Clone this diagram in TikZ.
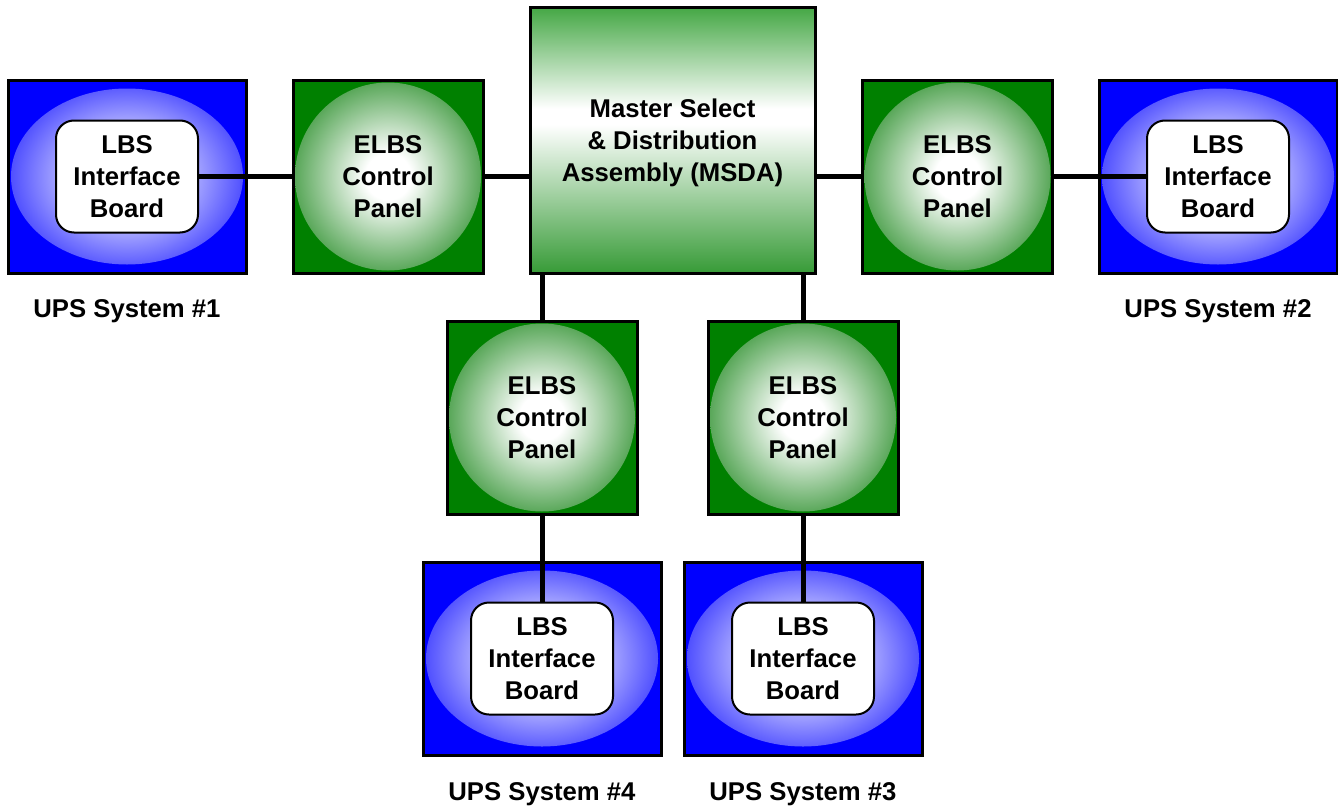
\documentclass[tikz,border=0pt]{standalone}
\usepackage{fontspec}
\setmainfont{Liberation Sans}
\definecolor{upsblue}{RGB}{0,0,255}
\definecolor{blueedge}{RGB}{75,75,255}
\definecolor{panelgreen}{RGB}{0,128,0}
\definecolor{greenedge}{RGB}{85,165,85}
\definecolor{msdatop}{RGB}{70,168,70}
\definecolor{msdabottom}{RGB}{55,155,55}
% soft elliptical glow inside the UPS and panel boxes
\pgfdeclareradialshading{bluespot}{\pgfpoint{0bp}{0bp}}{color(0bp)=(white); color(4bp)=(white); color(25bp)=(blueedge); color(50bp)=(blueedge)}
\pgfdeclareradialshading{greenspot}{\pgfpoint{0bp}{0bp}}{color(0bp)=(white); color(6bp)=(white); color(25bp)=(greenedge); color(50bp)=(greenedge)}
% vertical band, white a little above the middle of the assembly box
\pgfdeclareverticalshading{msdaband}{100bp}{color(0bp)=(msdabottom); color(25bp)=(msdabottom); color(53bp)=(white); color(56bp)=(white); color(75bp)=(msdatop); color(100bp)=(msdatop)}
\begin{document}
\begin{tikzpicture}[x=1pt,y=1pt,
  every node/.style={font=\fontsize{25.7}{32}\selectfont\bfseries, align=center,
    inner sep=0pt, outer sep=0pt},
  upsbox/.style={draw, line width=3pt, fill=upsblue,
    minimum width=238pt, minimum height=193pt,
    path picture={\shade[shading=bluespot] (path picture bounding box.center) ellipse (116pt and 88pt);}},
  panelbox/.style={draw, line width=3pt, fill=panelgreen,
    minimum width=190pt, minimum height=193pt,
    path picture={\shade[shading=greenspot] (path picture bounding box.center) ellipse (93pt and 94pt);}},
  msdabox/.style={draw, line width=3pt, shading=msdaband,
    minimum width=285pt, minimum height=265pt},
  lbsbox/.style={draw, line width=2pt, fill=white, rounded corners=18pt,
    minimum width=142pt, minimum height=112pt},
  caption/.style={anchor=base},
  link/.style={line width=5pt}
]
\useasboundingbox (0,0) rectangle (1338,-808);

% outer boxes
\node[upsbox]   (ups1)  at (127,-176.5) {};
\node[panelbox] (elbs1) at (388,-176.5) {};
\node[msdabox]  (msda)  at (672.5,-140.5) {};
\node[panelbox] (elbs2) at (957.5,-176.5) {};
\node[upsbox]   (ups2)  at (1218,-176.5) {};
\node[panelbox] (elbs4) at (542,-417.5) {};
\node[panelbox] (elbs3) at (803,-417.5) {};
\node[upsbox]   (ups4)  at (542,-658.5) {};
\node[upsbox]   (ups3)  at (803,-658.5) {};

% box captions
\node (msdatext) at ([yshift=-2pt]msda.center) {Master Select\\\& Distribution\\Assembly (MSDA)};
\node at (elbs1) {ELBS\\Control\\Panel};
\node at (elbs2) {ELBS\\Control\\Panel};
\node at (elbs4) {ELBS\\Control\\Panel};
\node at (elbs3) {ELBS\\Control\\Panel};

% connectors
\coordinate (m1) at (elbs1.east -| msda.west);
\coordinate (m2) at (elbs2.west -| msda.east);
\coordinate (m4) at (elbs4.north |- msda.south);
\coordinate (m3) at (elbs3.north |- msda.south);
\draw[link] (ups1.center) -- (elbs1.west);
\draw[link] (elbs1.east) -- (m1);
\draw[link] (m2) -- (elbs2.west);
\draw[link] (elbs2.east) -- (ups2.center);
\draw[link] (m4) -- (elbs4.north);
\draw[link] (m3) -- (elbs3.north);
\draw[link] (elbs4.south) -- (ups4.center);
\draw[link] (elbs3.south) -- (ups3.center);

% interface boards
\node[lbsbox] (lbs1) at (ups1) {LBS\\Interface\\Board};
\node[lbsbox] (lbs2) at (ups2) {LBS\\Interface\\Board};
\node[lbsbox] (lbs4) at (ups4) {LBS\\Interface\\Board};
\node[lbsbox] (lbs3) at (ups3) {LBS\\Interface\\Board};

% system labels
\node[caption] (t1) at (127,-317) {UPS System \#1};
\node[caption] (t2) at (1218,-317) {UPS System \#2};
\node[caption] (t4) at (542,-800) {UPS System \#4};
\node[caption] (t3) at (803,-800) {UPS System \#3};
\end{tikzpicture}
\end{document}
